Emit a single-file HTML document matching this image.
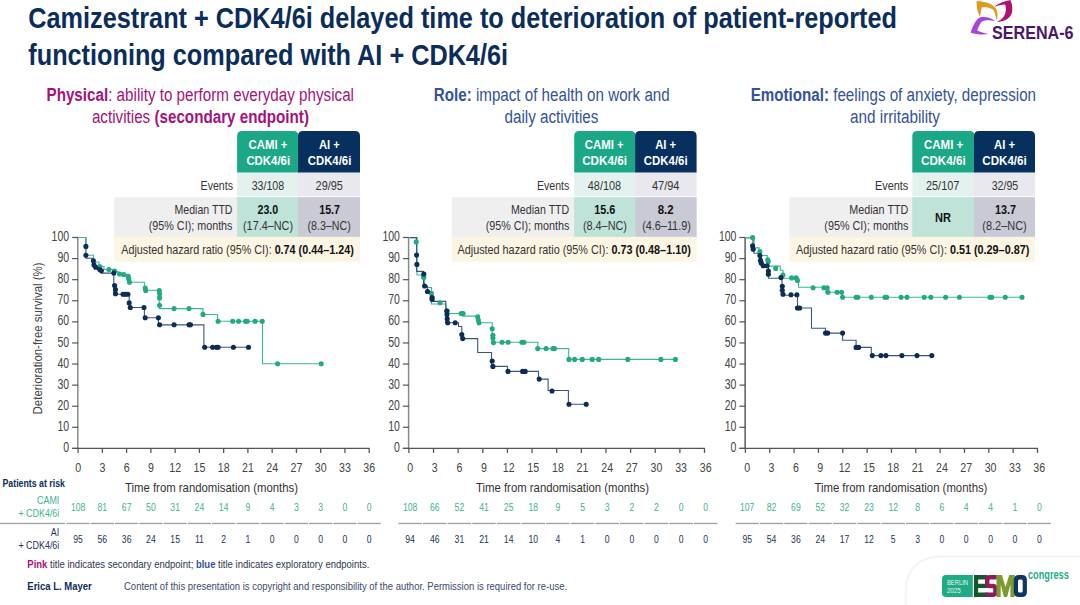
<!DOCTYPE html><html><head><meta charset="utf-8"><style>html,body{margin:0;padding:0;background:#fff;}svg{display:block;}text{font-family:"Liberation Sans", sans-serif;}</style></head><body>
<svg width="1080" height="605" viewBox="0 0 1080 605">
<rect x="0" y="0" width="1080" height="605" fill="#fff"/>
<text x="28.30" y="27.80" font-size="30" fill="#0b2d5b" font-weight="bold" textLength="868.70" lengthAdjust="spacingAndGlyphs" ><tspan>Camizestrant + CDK4/6i delayed time to deterioration of patient-reported</tspan></text>
<text x="28.30" y="65.20" font-size="30" fill="#0b2d5b" font-weight="bold" textLength="479.70" lengthAdjust="spacingAndGlyphs" ><tspan>functioning compared with AI + CDK4/6i</tspan></text>
<path d="M976.6,1 C985,1.5 992,3.5 995.5,8 C998,12 997.8,17 996.8,20.8 C995.5,16 995,12 993,9.5 C990,7.3 985,7 981.9,7.3 C981,10 980.5,13.5 980.2,16.8 C977.5,13 976.5,8 976.6,1 Z" fill="#dd9c1c"/>
<path d="M995.1,6 C999,3 1005,1 1010.3,0 C1012.5,4 1013,10 1011.5,14 C1009,19.5 1003,21.8 997,21.8 C1001,20 1004.5,17 1005.5,12.5 C1006.3,9 1005.8,6 1005,4.6 C1001.5,5 998,5.5 995.1,6.8 Z" fill="#b0126a"/>
<path d="M995.1,21.2 C991,17.5 985,16.3 980,17.5 C976,19 973,26 970.6,32.4 C976,34.5 983,35 989.1,34.1 C985,33 980,32 977.2,30.4 C978.5,27 980,23.5 982,21.5 C986,19.5 991,20 995.1,21.2 Z" fill="#a445dc"/>
<text x="992.00" y="39.00" font-size="18.8" fill="#4b1768" font-weight="bold" textLength="81.60" lengthAdjust="spacingAndGlyphs" ><tspan>SERENA-6</tspan></text>
<text x="46.50" y="101.30" font-size="18" fill="#a5137a" font-weight="normal" textLength="307.50" lengthAdjust="spacingAndGlyphs" ><tspan font-weight="bold">Physical</tspan><tspan>: ability to perform everyday physical</tspan></text>
<text x="91.90" y="122.60" font-size="18" fill="#a5137a" font-weight="normal" textLength="217.10" lengthAdjust="spacingAndGlyphs" ><tspan>activities </tspan><tspan font-weight="bold">(secondary endpoint)</tspan></text>
<text x="433.80" y="101.30" font-size="18" fill="#33529c" font-weight="normal" textLength="235.90" lengthAdjust="spacingAndGlyphs" ><tspan font-weight="bold">Role:</tspan><tspan> impact of health on work and</tspan></text>
<text x="504.50" y="122.60" font-size="18" fill="#33529c" font-weight="normal" textLength="93.90" lengthAdjust="spacingAndGlyphs" ><tspan>daily activities</tspan></text>
<text x="750.70" y="101.30" font-size="18" fill="#33529c" font-weight="normal" textLength="285.30" lengthAdjust="spacingAndGlyphs" ><tspan font-weight="bold">Emotional:</tspan><tspan> feelings of anxiety, depression</tspan></text>
<text x="850.00" y="122.60" font-size="18" fill="#33529c" font-weight="normal" textLength="90.00" lengthAdjust="spacingAndGlyphs" ><tspan>and irritability</tspan></text>
<rect x="114.25" y="197.2" width="245.75" height="39.70000000000002" fill="#efeff0"/>
<rect x="237.1" y="197.2" width="60.900000000000006" height="39.70000000000002" fill="#bfe3d8"/>
<rect x="298" y="197.2" width="62" height="39.70000000000002" fill="#c9cad6"/>
<rect x="114.25" y="236.9" width="245.75" height="24.799999999999983" fill="#fdf5e3"/>
<rect x="237.1" y="172.6" width="60.900000000000006" height="23.599999999999994" fill="#e3f2ee"/>
<rect x="298" y="172.6" width="62" height="23.599999999999994" fill="#e8e8ee"/>
<path d="M237.1,172.6 L237.1,136 Q237.1,131 242.1,131 L293.5,131 Q298.5,131 298.5,136 L298.5,172.6 Z" fill="#1ba886"/>
<path d="M298,172.6 L298,136 Q298,131 303,131 L355,131 Q360,131 360,136 L360,172.6 Z" fill="#07305f"/>
<text x="248.50" y="148.60" font-size="12.5" fill="#fff" font-weight="bold" textLength="38.90" lengthAdjust="spacingAndGlyphs" ><tspan>CAMI +</tspan></text>
<text x="246.40" y="164.90" font-size="12.5" fill="#fff" font-weight="bold" textLength="43.70" lengthAdjust="spacingAndGlyphs" ><tspan>CDK4/6i</tspan></text>
<text x="318.90" y="148.60" font-size="12.5" fill="#fff" font-weight="bold" textLength="20.80" lengthAdjust="spacingAndGlyphs" ><tspan>AI +</tspan></text>
<text x="307.80" y="164.90" font-size="12.5" fill="#fff" font-weight="bold" textLength="43.50" lengthAdjust="spacingAndGlyphs" ><tspan>CDK4/6i</tspan></text>
<text x="200.60" y="189.70" font-size="13" fill="#333333" font-weight="normal" textLength="32.40" lengthAdjust="spacingAndGlyphs" ><tspan>Events</tspan></text>
<text x="251.70" y="189.70" font-size="13" fill="#333333" font-weight="normal" textLength="32.50" lengthAdjust="spacingAndGlyphs" ><tspan>33/108</tspan></text>
<text x="315.60" y="189.70" font-size="13" fill="#333333" font-weight="normal" textLength="27.30" lengthAdjust="spacingAndGlyphs" ><tspan>29/95</tspan></text>
<text x="174.50" y="214.10" font-size="13" fill="#333333" font-weight="normal" textLength="58.00" lengthAdjust="spacingAndGlyphs" ><tspan>Median TTD</tspan></text>
<text x="148.75" y="230.30" font-size="13" fill="#333333" font-weight="normal" textLength="83.75" lengthAdjust="spacingAndGlyphs" ><tspan>(95% CI); months</tspan></text>
<text x="257.50" y="214.10" font-size="13" fill="#111" font-weight="bold" textLength="20.75" lengthAdjust="spacingAndGlyphs" ><tspan>23.0</tspan></text>
<text x="243.00" y="230.30" font-size="13" fill="#333333" font-weight="normal" textLength="50.00" lengthAdjust="spacingAndGlyphs" ><tspan>(17.4–NC)</tspan></text>
<text x="319.25" y="214.10" font-size="13" fill="#111" font-weight="bold" textLength="20.75" lengthAdjust="spacingAndGlyphs" ><tspan>15.7</tspan></text>
<text x="307.50" y="230.30" font-size="13" fill="#333333" font-weight="normal" textLength="43.25" lengthAdjust="spacingAndGlyphs" ><tspan>(8.3–NC)</tspan></text>
<text x="121.25" y="253.80" font-size="13" fill="#333333" font-weight="normal" textLength="232.50" lengthAdjust="spacingAndGlyphs" ><tspan>Adjusted hazard ratio (95% CI): </tspan><tspan font-weight="bold" fill="#111">0.74 (0.44–1.24)</tspan></text>
<rect x="451.7" y="197.2" width="244.90000000000003" height="39.70000000000002" fill="#efeff0"/>
<rect x="574.2" y="197.2" width="60.89999999999998" height="39.70000000000002" fill="#bfe3d8"/>
<rect x="635.1" y="197.2" width="61.5" height="39.70000000000002" fill="#c9cad6"/>
<rect x="451.7" y="236.9" width="244.90000000000003" height="24.799999999999983" fill="#fdf5e3"/>
<rect x="574.2" y="172.6" width="60.89999999999998" height="23.599999999999994" fill="#e3f2ee"/>
<rect x="635.1" y="172.6" width="61.5" height="23.599999999999994" fill="#e8e8ee"/>
<path d="M574.2,172.6 L574.2,136 Q574.2,131 579.2,131 L630.6,131 Q635.6,131 635.6,136 L635.6,172.6 Z" fill="#1ba886"/>
<path d="M635.1,172.6 L635.1,136 Q635.1,131 640.1,131 L691.6,131 Q696.6,131 696.6,136 L696.6,172.6 Z" fill="#07305f"/>
<text x="584.80" y="148.60" font-size="12.5" fill="#fff" font-weight="bold" textLength="38.90" lengthAdjust="spacingAndGlyphs" ><tspan>CAMI +</tspan></text>
<text x="582.20" y="164.90" font-size="12.5" fill="#fff" font-weight="bold" textLength="44.80" lengthAdjust="spacingAndGlyphs" ><tspan>CDK4/6i</tspan></text>
<text x="655.20" y="148.60" font-size="12.5" fill="#fff" font-weight="bold" textLength="21.00" lengthAdjust="spacingAndGlyphs" ><tspan>AI +</tspan></text>
<text x="643.80" y="164.90" font-size="12.5" fill="#fff" font-weight="bold" textLength="43.80" lengthAdjust="spacingAndGlyphs" ><tspan>CDK4/6i</tspan></text>
<text x="536.90" y="189.70" font-size="13" fill="#333333" font-weight="normal" textLength="32.40" lengthAdjust="spacingAndGlyphs" ><tspan>Events</tspan></text>
<text x="587.80" y="189.70" font-size="13" fill="#333333" font-weight="normal" textLength="33.30" lengthAdjust="spacingAndGlyphs" ><tspan>48/108</tspan></text>
<text x="651.90" y="189.70" font-size="13" fill="#333333" font-weight="normal" textLength="27.60" lengthAdjust="spacingAndGlyphs" ><tspan>47/94</tspan></text>
<text x="511.00" y="214.10" font-size="13" fill="#333333" font-weight="normal" textLength="58.30" lengthAdjust="spacingAndGlyphs" ><tspan>Median TTD</tspan></text>
<text x="485.70" y="230.30" font-size="13" fill="#333333" font-weight="normal" textLength="83.60" lengthAdjust="spacingAndGlyphs" ><tspan>(95% CI); months</tspan></text>
<text x="594.20" y="214.10" font-size="13" fill="#111" font-weight="bold" textLength="21.10" lengthAdjust="spacingAndGlyphs" ><tspan>15.6</tspan></text>
<text x="582.90" y="230.30" font-size="13" fill="#333333" font-weight="normal" textLength="44.10" lengthAdjust="spacingAndGlyphs" ><tspan>(8.4–NC)</tspan></text>
<text x="657.70" y="214.10" font-size="13" fill="#111" font-weight="bold" textLength="15.90" lengthAdjust="spacingAndGlyphs" ><tspan>8.2</tspan></text>
<text x="642.20" y="230.30" font-size="13" fill="#333333" font-weight="normal" textLength="48.60" lengthAdjust="spacingAndGlyphs" ><tspan>(4.6–11.9)</tspan></text>
<text x="457.50" y="253.80" font-size="13" fill="#333333" font-weight="normal" textLength="233.30" lengthAdjust="spacingAndGlyphs" ><tspan>Adjusted hazard ratio (95% CI): </tspan><tspan font-weight="bold" fill="#111">0.73 (0.48–1.10)</tspan></text>
<rect x="789.3" y="197.2" width="245.70000000000005" height="39.70000000000002" fill="#efeff0"/>
<rect x="912.3" y="197.2" width="61.700000000000045" height="39.70000000000002" fill="#bfe3d8"/>
<rect x="974" y="197.2" width="61" height="39.70000000000002" fill="#c9cad6"/>
<rect x="789.3" y="236.9" width="245.70000000000005" height="24.799999999999983" fill="#fdf5e3"/>
<rect x="912.3" y="172.6" width="61.700000000000045" height="23.599999999999994" fill="#e3f2ee"/>
<rect x="974" y="172.6" width="61" height="23.599999999999994" fill="#e8e8ee"/>
<path d="M912.3,172.6 L912.3,136 Q912.3,131 917.3,131 L969.5,131 Q974.5,131 974.5,136 L974.5,172.6 Z" fill="#1ba886"/>
<path d="M974,172.6 L974,136 Q974,131 979,131 L1030,131 Q1035,131 1035,136 L1035,172.6 Z" fill="#07305f"/>
<text x="924.00" y="148.60" font-size="12.5" fill="#fff" font-weight="bold" textLength="39.30" lengthAdjust="spacingAndGlyphs" ><tspan>CAMI +</tspan></text>
<text x="921.00" y="164.90" font-size="12.5" fill="#fff" font-weight="bold" textLength="44.70" lengthAdjust="spacingAndGlyphs" ><tspan>CDK4/6i</tspan></text>
<text x="994.00" y="148.60" font-size="12.5" fill="#fff" font-weight="bold" textLength="21.00" lengthAdjust="spacingAndGlyphs" ><tspan>AI +</tspan></text>
<text x="982.30" y="164.90" font-size="12.5" fill="#fff" font-weight="bold" textLength="44.40" lengthAdjust="spacingAndGlyphs" ><tspan>CDK4/6i</tspan></text>
<text x="875.00" y="189.70" font-size="13" fill="#333333" font-weight="normal" textLength="33.30" lengthAdjust="spacingAndGlyphs" ><tspan>Events</tspan></text>
<text x="926.00" y="189.70" font-size="13" fill="#333333" font-weight="normal" textLength="33.30" lengthAdjust="spacingAndGlyphs" ><tspan>25/107</tspan></text>
<text x="991.70" y="189.70" font-size="13" fill="#333333" font-weight="normal" textLength="26.60" lengthAdjust="spacingAndGlyphs" ><tspan>32/95</tspan></text>
<text x="849.30" y="214.10" font-size="13" fill="#333333" font-weight="normal" textLength="59.00" lengthAdjust="spacingAndGlyphs" ><tspan>Median TTD</tspan></text>
<text x="824.30" y="230.30" font-size="13" fill="#333333" font-weight="normal" textLength="84.00" lengthAdjust="spacingAndGlyphs" ><tspan>(95% CI); months</tspan></text>
<text x="935.00" y="221.60" font-size="13" fill="#111" font-weight="bold" textLength="16.00" lengthAdjust="spacingAndGlyphs" ><tspan>NR</tspan></text>
<text x="995.00" y="214.10" font-size="13" fill="#111" font-weight="bold" textLength="21.00" lengthAdjust="spacingAndGlyphs" ><tspan>13.7</tspan></text>
<text x="982.30" y="230.30" font-size="13" fill="#333333" font-weight="normal" textLength="44.40" lengthAdjust="spacingAndGlyphs" ><tspan>(8.2–NC)</tspan></text>
<text x="796.00" y="253.80" font-size="13" fill="#333333" font-weight="normal" textLength="233.30" lengthAdjust="spacingAndGlyphs" ><tspan>Adjusted hazard ratio (95% CI): </tspan><tspan font-weight="bold" fill="#111">0.51 (0.29–0.87)</tspan></text>
<line x1="77.8" y1="237.5" x2="77.8" y2="448.4" stroke="#8a8a8a" stroke-width="1.5"/>
<line x1="72.1" y1="448.40" x2="78.1" y2="448.40" stroke="#555" stroke-width="1.2"/>
<text transform="translate(69.10,452.00) scale(0.76,1)" font-size="13.8" fill="#444" font-weight="normal" text-anchor="end" ><tspan>0</tspan></text>
<line x1="72.1" y1="427.31" x2="78.1" y2="427.31" stroke="#555" stroke-width="1.2"/>
<text transform="translate(69.10,430.91) scale(0.76,1)" font-size="13.8" fill="#444" font-weight="normal" text-anchor="end" ><tspan>10</tspan></text>
<line x1="72.1" y1="406.22" x2="78.1" y2="406.22" stroke="#555" stroke-width="1.2"/>
<text transform="translate(69.10,409.82) scale(0.76,1)" font-size="13.8" fill="#444" font-weight="normal" text-anchor="end" ><tspan>20</tspan></text>
<line x1="72.1" y1="385.13" x2="78.1" y2="385.13" stroke="#555" stroke-width="1.2"/>
<text transform="translate(69.10,388.73) scale(0.76,1)" font-size="13.8" fill="#444" font-weight="normal" text-anchor="end" ><tspan>30</tspan></text>
<line x1="72.1" y1="364.04" x2="78.1" y2="364.04" stroke="#555" stroke-width="1.2"/>
<text transform="translate(69.10,367.64) scale(0.76,1)" font-size="13.8" fill="#444" font-weight="normal" text-anchor="end" ><tspan>40</tspan></text>
<line x1="72.1" y1="342.95" x2="78.1" y2="342.95" stroke="#555" stroke-width="1.2"/>
<text transform="translate(69.10,346.55) scale(0.76,1)" font-size="13.8" fill="#444" font-weight="normal" text-anchor="end" ><tspan>50</tspan></text>
<line x1="72.1" y1="321.86" x2="78.1" y2="321.86" stroke="#555" stroke-width="1.2"/>
<text transform="translate(69.10,325.46) scale(0.76,1)" font-size="13.8" fill="#444" font-weight="normal" text-anchor="end" ><tspan>60</tspan></text>
<line x1="72.1" y1="300.77" x2="78.1" y2="300.77" stroke="#555" stroke-width="1.2"/>
<text transform="translate(69.10,304.37) scale(0.76,1)" font-size="13.8" fill="#444" font-weight="normal" text-anchor="end" ><tspan>70</tspan></text>
<line x1="72.1" y1="279.68" x2="78.1" y2="279.68" stroke="#555" stroke-width="1.2"/>
<text transform="translate(69.10,283.28) scale(0.76,1)" font-size="13.8" fill="#444" font-weight="normal" text-anchor="end" ><tspan>80</tspan></text>
<line x1="72.1" y1="258.59" x2="78.1" y2="258.59" stroke="#555" stroke-width="1.2"/>
<text transform="translate(69.10,262.19) scale(0.76,1)" font-size="13.8" fill="#444" font-weight="normal" text-anchor="end" ><tspan>90</tspan></text>
<line x1="72.1" y1="237.50" x2="78.1" y2="237.50" stroke="#555" stroke-width="1.2"/>
<text transform="translate(69.10,241.10) scale(0.76,1)" font-size="13.8" fill="#444" font-weight="normal" text-anchor="end" ><tspan>100</tspan></text>
<line x1="72.1" y1="448.4" x2="369.7" y2="448.4" stroke="#555" stroke-width="1.3"/>
<line x1="78.10" y1="448.4" x2="78.10" y2="452.9" stroke="#555" stroke-width="1.3"/>
<text transform="translate(78.10,471.50) scale(0.82,1)" font-size="13" fill="#444" font-weight="normal" text-anchor="middle" ><tspan>0</tspan></text>
<line x1="102.36" y1="448.4" x2="102.36" y2="452.9" stroke="#555" stroke-width="1.3"/>
<text transform="translate(102.36,471.50) scale(0.82,1)" font-size="13" fill="#444" font-weight="normal" text-anchor="middle" ><tspan>3</tspan></text>
<line x1="126.62" y1="448.4" x2="126.62" y2="452.9" stroke="#555" stroke-width="1.3"/>
<text transform="translate(126.62,471.50) scale(0.82,1)" font-size="13" fill="#444" font-weight="normal" text-anchor="middle" ><tspan>6</tspan></text>
<line x1="150.88" y1="448.4" x2="150.88" y2="452.9" stroke="#555" stroke-width="1.3"/>
<text transform="translate(150.88,471.50) scale(0.82,1)" font-size="13" fill="#444" font-weight="normal" text-anchor="middle" ><tspan>9</tspan></text>
<line x1="175.13" y1="448.4" x2="175.13" y2="452.9" stroke="#555" stroke-width="1.3"/>
<text transform="translate(175.13,471.50) scale(0.82,1)" font-size="13" fill="#444" font-weight="normal" text-anchor="middle" ><tspan>12</tspan></text>
<line x1="199.39" y1="448.4" x2="199.39" y2="452.9" stroke="#555" stroke-width="1.3"/>
<text transform="translate(199.39,471.50) scale(0.82,1)" font-size="13" fill="#444" font-weight="normal" text-anchor="middle" ><tspan>15</tspan></text>
<line x1="223.65" y1="448.4" x2="223.65" y2="452.9" stroke="#555" stroke-width="1.3"/>
<text transform="translate(223.65,471.50) scale(0.82,1)" font-size="13" fill="#444" font-weight="normal" text-anchor="middle" ><tspan>18</tspan></text>
<line x1="247.91" y1="448.4" x2="247.91" y2="452.9" stroke="#555" stroke-width="1.3"/>
<text transform="translate(247.91,471.50) scale(0.82,1)" font-size="13" fill="#444" font-weight="normal" text-anchor="middle" ><tspan>21</tspan></text>
<line x1="272.17" y1="448.4" x2="272.17" y2="452.9" stroke="#555" stroke-width="1.3"/>
<text transform="translate(272.17,471.50) scale(0.82,1)" font-size="13" fill="#444" font-weight="normal" text-anchor="middle" ><tspan>24</tspan></text>
<line x1="296.43" y1="448.4" x2="296.43" y2="452.9" stroke="#555" stroke-width="1.3"/>
<text transform="translate(296.43,471.50) scale(0.82,1)" font-size="13" fill="#444" font-weight="normal" text-anchor="middle" ><tspan>27</tspan></text>
<line x1="320.68" y1="448.4" x2="320.68" y2="452.9" stroke="#555" stroke-width="1.3"/>
<text transform="translate(320.68,471.50) scale(0.82,1)" font-size="13" fill="#444" font-weight="normal" text-anchor="middle" ><tspan>30</tspan></text>
<line x1="344.94" y1="448.4" x2="344.94" y2="452.9" stroke="#555" stroke-width="1.3"/>
<text transform="translate(344.94,471.50) scale(0.82,1)" font-size="13" fill="#444" font-weight="normal" text-anchor="middle" ><tspan>33</tspan></text>
<line x1="369.20" y1="448.4" x2="369.20" y2="452.9" stroke="#555" stroke-width="1.3"/>
<text transform="translate(369.20,471.50) scale(0.82,1)" font-size="13" fill="#444" font-weight="normal" text-anchor="middle" ><tspan>36</tspan></text>
<line x1="408.59999999999997" y1="237.5" x2="408.59999999999997" y2="448.4" stroke="#8a8a8a" stroke-width="1.5"/>
<line x1="402.9" y1="448.40" x2="408.9" y2="448.40" stroke="#555" stroke-width="1.2"/>
<text transform="translate(399.90,452.00) scale(0.76,1)" font-size="13.8" fill="#444" font-weight="normal" text-anchor="end" ><tspan>0</tspan></text>
<line x1="402.9" y1="427.31" x2="408.9" y2="427.31" stroke="#555" stroke-width="1.2"/>
<text transform="translate(399.90,430.91) scale(0.76,1)" font-size="13.8" fill="#444" font-weight="normal" text-anchor="end" ><tspan>10</tspan></text>
<line x1="402.9" y1="406.22" x2="408.9" y2="406.22" stroke="#555" stroke-width="1.2"/>
<text transform="translate(399.90,409.82) scale(0.76,1)" font-size="13.8" fill="#444" font-weight="normal" text-anchor="end" ><tspan>20</tspan></text>
<line x1="402.9" y1="385.13" x2="408.9" y2="385.13" stroke="#555" stroke-width="1.2"/>
<text transform="translate(399.90,388.73) scale(0.76,1)" font-size="13.8" fill="#444" font-weight="normal" text-anchor="end" ><tspan>30</tspan></text>
<line x1="402.9" y1="364.04" x2="408.9" y2="364.04" stroke="#555" stroke-width="1.2"/>
<text transform="translate(399.90,367.64) scale(0.76,1)" font-size="13.8" fill="#444" font-weight="normal" text-anchor="end" ><tspan>40</tspan></text>
<line x1="402.9" y1="342.95" x2="408.9" y2="342.95" stroke="#555" stroke-width="1.2"/>
<text transform="translate(399.90,346.55) scale(0.76,1)" font-size="13.8" fill="#444" font-weight="normal" text-anchor="end" ><tspan>50</tspan></text>
<line x1="402.9" y1="321.86" x2="408.9" y2="321.86" stroke="#555" stroke-width="1.2"/>
<text transform="translate(399.90,325.46) scale(0.76,1)" font-size="13.8" fill="#444" font-weight="normal" text-anchor="end" ><tspan>60</tspan></text>
<line x1="402.9" y1="300.77" x2="408.9" y2="300.77" stroke="#555" stroke-width="1.2"/>
<text transform="translate(399.90,304.37) scale(0.76,1)" font-size="13.8" fill="#444" font-weight="normal" text-anchor="end" ><tspan>70</tspan></text>
<line x1="402.9" y1="279.68" x2="408.9" y2="279.68" stroke="#555" stroke-width="1.2"/>
<text transform="translate(399.90,283.28) scale(0.76,1)" font-size="13.8" fill="#444" font-weight="normal" text-anchor="end" ><tspan>80</tspan></text>
<line x1="402.9" y1="258.59" x2="408.9" y2="258.59" stroke="#555" stroke-width="1.2"/>
<text transform="translate(399.90,262.19) scale(0.76,1)" font-size="13.8" fill="#444" font-weight="normal" text-anchor="end" ><tspan>90</tspan></text>
<line x1="402.9" y1="237.50" x2="408.9" y2="237.50" stroke="#555" stroke-width="1.2"/>
<text transform="translate(399.90,241.10) scale(0.76,1)" font-size="13.8" fill="#444" font-weight="normal" text-anchor="end" ><tspan>100</tspan></text>
<line x1="402.9" y1="448.4" x2="705.0" y2="448.4" stroke="#555" stroke-width="1.3"/>
<line x1="408.90" y1="448.4" x2="408.90" y2="452.9" stroke="#555" stroke-width="1.3"/>
<text transform="translate(410.10,471.50) scale(0.82,1)" font-size="13" fill="#444" font-weight="normal" text-anchor="middle" ><tspan>0</tspan></text>
<line x1="433.53" y1="448.4" x2="433.53" y2="452.9" stroke="#555" stroke-width="1.3"/>
<text transform="translate(434.73,471.50) scale(0.82,1)" font-size="13" fill="#444" font-weight="normal" text-anchor="middle" ><tspan>3</tspan></text>
<line x1="458.17" y1="448.4" x2="458.17" y2="452.9" stroke="#555" stroke-width="1.3"/>
<text transform="translate(459.37,471.50) scale(0.82,1)" font-size="13" fill="#444" font-weight="normal" text-anchor="middle" ><tspan>6</tspan></text>
<line x1="482.80" y1="448.4" x2="482.80" y2="452.9" stroke="#555" stroke-width="1.3"/>
<text transform="translate(484.00,471.50) scale(0.82,1)" font-size="13" fill="#444" font-weight="normal" text-anchor="middle" ><tspan>9</tspan></text>
<line x1="507.43" y1="448.4" x2="507.43" y2="452.9" stroke="#555" stroke-width="1.3"/>
<text transform="translate(508.63,471.50) scale(0.82,1)" font-size="13" fill="#444" font-weight="normal" text-anchor="middle" ><tspan>12</tspan></text>
<line x1="532.07" y1="448.4" x2="532.07" y2="452.9" stroke="#555" stroke-width="1.3"/>
<text transform="translate(533.27,471.50) scale(0.82,1)" font-size="13" fill="#444" font-weight="normal" text-anchor="middle" ><tspan>15</tspan></text>
<line x1="556.70" y1="448.4" x2="556.70" y2="452.9" stroke="#555" stroke-width="1.3"/>
<text transform="translate(557.90,471.50) scale(0.82,1)" font-size="13" fill="#444" font-weight="normal" text-anchor="middle" ><tspan>18</tspan></text>
<line x1="581.33" y1="448.4" x2="581.33" y2="452.9" stroke="#555" stroke-width="1.3"/>
<text transform="translate(582.53,471.50) scale(0.82,1)" font-size="13" fill="#444" font-weight="normal" text-anchor="middle" ><tspan>21</tspan></text>
<line x1="605.97" y1="448.4" x2="605.97" y2="452.9" stroke="#555" stroke-width="1.3"/>
<text transform="translate(607.17,471.50) scale(0.82,1)" font-size="13" fill="#444" font-weight="normal" text-anchor="middle" ><tspan>24</tspan></text>
<line x1="630.60" y1="448.4" x2="630.60" y2="452.9" stroke="#555" stroke-width="1.3"/>
<text transform="translate(631.80,471.50) scale(0.82,1)" font-size="13" fill="#444" font-weight="normal" text-anchor="middle" ><tspan>27</tspan></text>
<line x1="655.23" y1="448.4" x2="655.23" y2="452.9" stroke="#555" stroke-width="1.3"/>
<text transform="translate(656.43,471.50) scale(0.82,1)" font-size="13" fill="#444" font-weight="normal" text-anchor="middle" ><tspan>30</tspan></text>
<line x1="679.87" y1="448.4" x2="679.87" y2="452.9" stroke="#555" stroke-width="1.3"/>
<text transform="translate(681.07,471.50) scale(0.82,1)" font-size="13" fill="#444" font-weight="normal" text-anchor="middle" ><tspan>33</tspan></text>
<line x1="704.50" y1="448.4" x2="704.50" y2="452.9" stroke="#555" stroke-width="1.3"/>
<text transform="translate(705.70,471.50) scale(0.82,1)" font-size="13" fill="#444" font-weight="normal" text-anchor="middle" ><tspan>36</tspan></text>
<line x1="745.1" y1="237.5" x2="745.1" y2="448.4" stroke="#333" stroke-width="1.2"/>
<line x1="739.4" y1="448.40" x2="745.4" y2="448.40" stroke="#555" stroke-width="1.2"/>
<text transform="translate(736.40,452.00) scale(0.76,1)" font-size="13.8" fill="#444" font-weight="normal" text-anchor="end" ><tspan>0</tspan></text>
<line x1="739.4" y1="427.31" x2="745.4" y2="427.31" stroke="#555" stroke-width="1.2"/>
<text transform="translate(736.40,430.91) scale(0.76,1)" font-size="13.8" fill="#444" font-weight="normal" text-anchor="end" ><tspan>10</tspan></text>
<line x1="739.4" y1="406.22" x2="745.4" y2="406.22" stroke="#555" stroke-width="1.2"/>
<text transform="translate(736.40,409.82) scale(0.76,1)" font-size="13.8" fill="#444" font-weight="normal" text-anchor="end" ><tspan>20</tspan></text>
<line x1="739.4" y1="385.13" x2="745.4" y2="385.13" stroke="#555" stroke-width="1.2"/>
<text transform="translate(736.40,388.73) scale(0.76,1)" font-size="13.8" fill="#444" font-weight="normal" text-anchor="end" ><tspan>30</tspan></text>
<line x1="739.4" y1="364.04" x2="745.4" y2="364.04" stroke="#555" stroke-width="1.2"/>
<text transform="translate(736.40,367.64) scale(0.76,1)" font-size="13.8" fill="#444" font-weight="normal" text-anchor="end" ><tspan>40</tspan></text>
<line x1="739.4" y1="342.95" x2="745.4" y2="342.95" stroke="#555" stroke-width="1.2"/>
<text transform="translate(736.40,346.55) scale(0.76,1)" font-size="13.8" fill="#444" font-weight="normal" text-anchor="end" ><tspan>50</tspan></text>
<line x1="739.4" y1="321.86" x2="745.4" y2="321.86" stroke="#555" stroke-width="1.2"/>
<text transform="translate(736.40,325.46) scale(0.76,1)" font-size="13.8" fill="#444" font-weight="normal" text-anchor="end" ><tspan>60</tspan></text>
<line x1="739.4" y1="300.77" x2="745.4" y2="300.77" stroke="#555" stroke-width="1.2"/>
<text transform="translate(736.40,304.37) scale(0.76,1)" font-size="13.8" fill="#444" font-weight="normal" text-anchor="end" ><tspan>70</tspan></text>
<line x1="739.4" y1="279.68" x2="745.4" y2="279.68" stroke="#555" stroke-width="1.2"/>
<text transform="translate(736.40,283.28) scale(0.76,1)" font-size="13.8" fill="#444" font-weight="normal" text-anchor="end" ><tspan>80</tspan></text>
<line x1="739.4" y1="258.59" x2="745.4" y2="258.59" stroke="#555" stroke-width="1.2"/>
<text transform="translate(736.40,262.19) scale(0.76,1)" font-size="13.8" fill="#444" font-weight="normal" text-anchor="end" ><tspan>90</tspan></text>
<line x1="739.4" y1="237.50" x2="745.4" y2="237.50" stroke="#555" stroke-width="1.2"/>
<text transform="translate(736.40,241.10) scale(0.76,1)" font-size="13.8" fill="#444" font-weight="normal" text-anchor="end" ><tspan>100</tspan></text>
<line x1="739.4" y1="448.4" x2="1038.0" y2="448.4" stroke="#555" stroke-width="1.3"/>
<line x1="745.40" y1="448.4" x2="745.40" y2="452.9" stroke="#555" stroke-width="1.3"/>
<text transform="translate(747.20,471.50) scale(0.82,1)" font-size="13" fill="#444" font-weight="normal" text-anchor="middle" ><tspan>0</tspan></text>
<line x1="769.74" y1="448.4" x2="769.74" y2="452.9" stroke="#555" stroke-width="1.3"/>
<text transform="translate(771.54,471.50) scale(0.82,1)" font-size="13" fill="#444" font-weight="normal" text-anchor="middle" ><tspan>3</tspan></text>
<line x1="794.08" y1="448.4" x2="794.08" y2="452.9" stroke="#555" stroke-width="1.3"/>
<text transform="translate(795.88,471.50) scale(0.82,1)" font-size="13" fill="#444" font-weight="normal" text-anchor="middle" ><tspan>6</tspan></text>
<line x1="818.42" y1="448.4" x2="818.42" y2="452.9" stroke="#555" stroke-width="1.3"/>
<text transform="translate(820.22,471.50) scale(0.82,1)" font-size="13" fill="#444" font-weight="normal" text-anchor="middle" ><tspan>9</tspan></text>
<line x1="842.77" y1="448.4" x2="842.77" y2="452.9" stroke="#555" stroke-width="1.3"/>
<text transform="translate(844.57,471.50) scale(0.82,1)" font-size="13" fill="#444" font-weight="normal" text-anchor="middle" ><tspan>12</tspan></text>
<line x1="867.11" y1="448.4" x2="867.11" y2="452.9" stroke="#555" stroke-width="1.3"/>
<text transform="translate(868.91,471.50) scale(0.82,1)" font-size="13" fill="#444" font-weight="normal" text-anchor="middle" ><tspan>15</tspan></text>
<line x1="891.45" y1="448.4" x2="891.45" y2="452.9" stroke="#555" stroke-width="1.3"/>
<text transform="translate(893.25,471.50) scale(0.82,1)" font-size="13" fill="#444" font-weight="normal" text-anchor="middle" ><tspan>18</tspan></text>
<line x1="915.79" y1="448.4" x2="915.79" y2="452.9" stroke="#555" stroke-width="1.3"/>
<text transform="translate(917.59,471.50) scale(0.82,1)" font-size="13" fill="#444" font-weight="normal" text-anchor="middle" ><tspan>21</tspan></text>
<line x1="940.13" y1="448.4" x2="940.13" y2="452.9" stroke="#555" stroke-width="1.3"/>
<text transform="translate(941.93,471.50) scale(0.82,1)" font-size="13" fill="#444" font-weight="normal" text-anchor="middle" ><tspan>24</tspan></text>
<line x1="964.48" y1="448.4" x2="964.48" y2="452.9" stroke="#555" stroke-width="1.3"/>
<text transform="translate(966.27,471.50) scale(0.82,1)" font-size="13" fill="#444" font-weight="normal" text-anchor="middle" ><tspan>27</tspan></text>
<line x1="988.82" y1="448.4" x2="988.82" y2="452.9" stroke="#555" stroke-width="1.3"/>
<text transform="translate(990.62,471.50) scale(0.82,1)" font-size="13" fill="#444" font-weight="normal" text-anchor="middle" ><tspan>30</tspan></text>
<line x1="1013.16" y1="448.4" x2="1013.16" y2="452.9" stroke="#555" stroke-width="1.3"/>
<text transform="translate(1014.96,471.50) scale(0.82,1)" font-size="13" fill="#444" font-weight="normal" text-anchor="middle" ><tspan>33</tspan></text>
<line x1="1037.50" y1="448.4" x2="1037.50" y2="452.9" stroke="#555" stroke-width="1.3"/>
<text transform="translate(1039.30,471.50) scale(0.82,1)" font-size="13" fill="#444" font-weight="normal" text-anchor="middle" ><tspan>36</tspan></text>
<text transform="translate(42.4,414.4) rotate(-90)" font-size="13" fill="#444" textLength="152" lengthAdjust="spacingAndGlyphs">Deterioration-free survival (%)</text>
<path d="M78.0,237.5 L85.9,237.5 L85.9,258.3 L93.4,258.3 L93.4,264.0 L95.0,264.0 L95.0,267.0 L98.0,267.0 L98.0,270.0 L101.4,270.0 L101.4,273.1 L113.8,273.1 L113.8,294.3 L129.2,294.3 L129.2,307.5 L144.4,307.5 L144.4,317.7 L158.4,317.7 L158.4,324.9 L203.9,324.9 L203.9,347.2 L248.5,347.2 L248.5,347.2" fill="none" stroke="#3b5580" stroke-width="1.1" stroke-linejoin="miter"/>
<path d="M78.0,237.5 L85.9,237.5 L85.9,255.3 L93.6,255.3 L93.6,262.0 L99.0,262.0 L99.0,266.5 L104.0,266.5 L104.0,269.5 L113.0,269.5 L113.0,271.5 L118.0,271.5 L118.0,274.5 L128.2,274.5 L128.2,282.2 L144.4,282.2 L144.4,290.3 L159.3,290.3 L159.3,308.6 L203.0,308.6 L203.0,314.5 L217.6,314.5 L217.6,321.2 L262.5,321.2 L262.5,363.7 L321.2,363.7 L321.2,363.7" fill="none" stroke="#3db692" stroke-width="1.1" stroke-linejoin="miter"/>
<circle cx="99.8" cy="266.5" r="2.55" fill="#1faa84"/>
<circle cx="108.9" cy="269.5" r="2.55" fill="#1faa84"/>
<circle cx="114.6" cy="271.1" r="2.55" fill="#1faa84"/>
<circle cx="119.6" cy="274.0" r="2.55" fill="#1faa84"/>
<circle cx="123.7" cy="274.5" r="2.55" fill="#1faa84"/>
<circle cx="128.2" cy="276.4" r="2.55" fill="#1faa84"/>
<circle cx="128.7" cy="278.9" r="2.55" fill="#1faa84"/>
<circle cx="129.5" cy="282.2" r="2.55" fill="#1faa84"/>
<circle cx="145.2" cy="288.0" r="2.55" fill="#1faa84"/>
<circle cx="145.7" cy="290.5" r="2.55" fill="#1faa84"/>
<circle cx="159.3" cy="290.5" r="2.55" fill="#1faa84"/>
<circle cx="159.6" cy="293.8" r="2.55" fill="#1faa84"/>
<circle cx="159.6" cy="297.9" r="2.55" fill="#1faa84"/>
<circle cx="159.6" cy="305.3" r="2.55" fill="#1faa84"/>
<circle cx="174.1" cy="308.6" r="2.55" fill="#1faa84"/>
<circle cx="189.0" cy="308.6" r="2.55" fill="#1faa84"/>
<circle cx="203.0" cy="314.4" r="2.55" fill="#1faa84"/>
<circle cx="218.1" cy="321.2" r="2.55" fill="#1faa84"/>
<circle cx="232.7" cy="321.2" r="2.55" fill="#1faa84"/>
<circle cx="238.6" cy="321.2" r="2.55" fill="#1faa84"/>
<circle cx="245.6" cy="321.2" r="2.55" fill="#1faa84"/>
<circle cx="247.2" cy="321.2" r="2.55" fill="#1faa84"/>
<circle cx="255.1" cy="321.2" r="2.55" fill="#1faa84"/>
<circle cx="262.2" cy="321.2" r="2.55" fill="#1faa84"/>
<circle cx="277.6" cy="363.7" r="2.55" fill="#1faa84"/>
<circle cx="321.2" cy="363.7" r="2.55" fill="#1faa84"/>
<circle cx="85.9" cy="246.4" r="2.55" fill="#0b2b58"/>
<circle cx="85.9" cy="255.3" r="2.55" fill="#0b2b58"/>
<circle cx="93.4" cy="260.8" r="2.55" fill="#0b2b58"/>
<circle cx="94.0" cy="264.9" r="2.55" fill="#0b2b58"/>
<circle cx="95.7" cy="267.3" r="2.55" fill="#0b2b58"/>
<circle cx="99.8" cy="269.5" r="2.55" fill="#0b2b58"/>
<circle cx="101.4" cy="270.7" r="2.55" fill="#0b2b58"/>
<circle cx="113.8" cy="273.1" r="2.55" fill="#0b2b58"/>
<circle cx="114.6" cy="285.5" r="2.55" fill="#0b2b58"/>
<circle cx="115.5" cy="289.5" r="2.55" fill="#0b2b58"/>
<circle cx="115.5" cy="293.8" r="2.55" fill="#0b2b58"/>
<circle cx="123.0" cy="294.3" r="2.55" fill="#0b2b58"/>
<circle cx="125.4" cy="294.3" r="2.55" fill="#0b2b58"/>
<circle cx="127.9" cy="294.3" r="2.55" fill="#0b2b58"/>
<circle cx="129.2" cy="302.9" r="2.55" fill="#0b2b58"/>
<circle cx="130.3" cy="307.5" r="2.55" fill="#0b2b58"/>
<circle cx="144.0" cy="307.5" r="2.55" fill="#0b2b58"/>
<circle cx="145.2" cy="317.7" r="2.55" fill="#0b2b58"/>
<circle cx="158.4" cy="317.7" r="2.55" fill="#0b2b58"/>
<circle cx="159.6" cy="324.7" r="2.55" fill="#0b2b58"/>
<circle cx="174.1" cy="324.7" r="2.55" fill="#0b2b58"/>
<circle cx="189.0" cy="324.7" r="2.55" fill="#0b2b58"/>
<circle cx="190.5" cy="324.7" r="2.55" fill="#0b2b58"/>
<circle cx="204.7" cy="347.2" r="2.55" fill="#0b2b58"/>
<circle cx="212.6" cy="347.2" r="2.55" fill="#0b2b58"/>
<circle cx="216.5" cy="347.2" r="2.55" fill="#0b2b58"/>
<circle cx="218.1" cy="347.2" r="2.55" fill="#0b2b58"/>
<circle cx="233.4" cy="347.2" r="2.55" fill="#0b2b58"/>
<circle cx="248.5" cy="347.2" r="2.55" fill="#0b2b58"/>
<path d="M409.6,237.6 L417.0,237.6 L417.0,275.0 L421.5,275.0 L421.5,278.0 L424.6,278.0 L424.6,287.5 L431.4,287.5 L431.4,304.0 L446.0,304.0 L446.0,313.5 L462.5,313.5 L462.5,316.1 L477.7,316.1 L477.7,322.8 L492.2,322.8 L492.2,342.3 L537.8,342.3 L537.8,348.6 L568.7,348.6 L568.7,359.4 L675.4,359.4 L675.4,359.4" fill="none" stroke="#3db692" stroke-width="1.1" stroke-linejoin="miter"/>
<path d="M409.6,237.6 L416.6,237.6 L416.6,271.4 L423.5,271.4 L423.5,286.0 L427.5,286.0 L427.5,291.5 L432.1,291.5 L432.1,301.4 L445.8,301.4 L445.8,322.8 L458.5,322.8 L458.5,326.5 L461.8,326.5 L461.8,338.6 L477.7,338.6 L477.7,352.5 L491.5,352.5 L491.5,366.4 L507.4,366.4 L507.4,371.4 L538.5,371.4 L538.5,379.1 L548.1,379.1 L548.1,390.5 L568.4,390.5 L568.4,404.3 L586.2,404.3 L586.2,404.3" fill="none" stroke="#3b5580" stroke-width="1.1" stroke-linejoin="miter"/>
<circle cx="416.2" cy="241.9" r="2.55" fill="#1faa84"/>
<circle cx="423.8" cy="277.6" r="2.55" fill="#1faa84"/>
<circle cx="431.4" cy="293.5" r="2.55" fill="#1faa84"/>
<circle cx="440.0" cy="302.7" r="2.55" fill="#1faa84"/>
<circle cx="447.3" cy="311.0" r="2.55" fill="#1faa84"/>
<circle cx="461.1" cy="313.5" r="2.55" fill="#1faa84"/>
<circle cx="463.1" cy="313.5" r="2.55" fill="#1faa84"/>
<circle cx="477.7" cy="316.8" r="2.55" fill="#1faa84"/>
<circle cx="478.3" cy="320.0" r="2.55" fill="#1faa84"/>
<circle cx="479.0" cy="322.8" r="2.55" fill="#1faa84"/>
<circle cx="492.2" cy="328.7" r="2.55" fill="#1faa84"/>
<circle cx="492.9" cy="335.3" r="2.55" fill="#1faa84"/>
<circle cx="492.9" cy="338.0" r="2.55" fill="#1faa84"/>
<circle cx="493.5" cy="342.6" r="2.55" fill="#1faa84"/>
<circle cx="502.1" cy="342.3" r="2.55" fill="#1faa84"/>
<circle cx="508.1" cy="342.3" r="2.55" fill="#1faa84"/>
<circle cx="521.9" cy="342.3" r="2.55" fill="#1faa84"/>
<circle cx="523.9" cy="342.3" r="2.55" fill="#1faa84"/>
<circle cx="537.7" cy="348.6" r="2.55" fill="#1faa84"/>
<circle cx="546.1" cy="348.6" r="2.55" fill="#1faa84"/>
<circle cx="553.0" cy="348.6" r="2.55" fill="#1faa84"/>
<circle cx="554.5" cy="348.6" r="2.55" fill="#1faa84"/>
<circle cx="569.0" cy="359.4" r="2.55" fill="#1faa84"/>
<circle cx="574.6" cy="359.4" r="2.55" fill="#1faa84"/>
<circle cx="582.3" cy="359.4" r="2.55" fill="#1faa84"/>
<circle cx="592.2" cy="359.4" r="2.55" fill="#1faa84"/>
<circle cx="598.7" cy="359.4" r="2.55" fill="#1faa84"/>
<circle cx="627.8" cy="359.4" r="2.55" fill="#1faa84"/>
<circle cx="660.9" cy="359.4" r="2.55" fill="#1faa84"/>
<circle cx="675.4" cy="359.4" r="2.55" fill="#1faa84"/>
<circle cx="416.6" cy="255.1" r="2.55" fill="#0b2b58"/>
<circle cx="416.9" cy="264.4" r="2.55" fill="#0b2b58"/>
<circle cx="423.8" cy="274.0" r="2.55" fill="#0b2b58"/>
<circle cx="424.6" cy="286.0" r="2.55" fill="#0b2b58"/>
<circle cx="427.5" cy="291.5" r="2.55" fill="#0b2b58"/>
<circle cx="432.1" cy="297.5" r="2.55" fill="#0b2b58"/>
<circle cx="432.1" cy="299.4" r="2.55" fill="#0b2b58"/>
<circle cx="446.7" cy="311.0" r="2.55" fill="#0b2b58"/>
<circle cx="447.0" cy="314.5" r="2.55" fill="#0b2b58"/>
<circle cx="447.2" cy="318.8" r="2.55" fill="#0b2b58"/>
<circle cx="447.7" cy="322.8" r="2.55" fill="#0b2b58"/>
<circle cx="455.2" cy="322.8" r="2.55" fill="#0b2b58"/>
<circle cx="461.8" cy="334.6" r="2.55" fill="#0b2b58"/>
<circle cx="462.7" cy="338.6" r="2.55" fill="#0b2b58"/>
<circle cx="492.2" cy="361.0" r="2.55" fill="#0b2b58"/>
<circle cx="492.9" cy="366.4" r="2.55" fill="#0b2b58"/>
<circle cx="508.0" cy="371.4" r="2.55" fill="#0b2b58"/>
<circle cx="522.6" cy="371.4" r="2.55" fill="#0b2b58"/>
<circle cx="525.2" cy="371.4" r="2.55" fill="#0b2b58"/>
<circle cx="539.2" cy="379.1" r="2.55" fill="#0b2b58"/>
<circle cx="552.0" cy="391.0" r="2.55" fill="#0b2b58"/>
<circle cx="569.0" cy="404.3" r="2.55" fill="#0b2b58"/>
<circle cx="586.2" cy="404.3" r="2.55" fill="#0b2b58"/>
<path d="M746.0,237.6 L753.9,237.6 L753.9,253.2 L759.2,253.2 L759.2,257.5 L761.0,257.5 L761.0,262.0 L763.0,262.0 L763.0,265.7 L768.4,265.7 L768.4,278.3 L782.0,278.3 L782.0,295.2 L797.5,295.2 L797.5,308.0 L811.5,308.0 L811.5,328.2 L825.5,328.2 L825.5,333.1 L842.6,333.1 L842.6,340.2 L856.1,340.2 L856.1,347.4 L871.3,347.4 L871.3,355.6 L931.8,355.6 L931.8,355.6" fill="none" stroke="#3b5580" stroke-width="1.1" stroke-linejoin="miter"/>
<path d="M746.0,237.6 L752.6,237.6 L752.6,247.9 L759.2,247.9 L759.2,255.5 L767.3,255.5 L767.3,266.1 L780.3,266.1 L780.3,270.3 L783.0,270.3 L783.0,278.3 L798.5,278.3 L798.5,287.3 L826.0,287.3 L826.0,292.3 L842.0,292.3 L842.0,297.3 L1022.0,297.3 L1022.0,297.3" fill="none" stroke="#3db692" stroke-width="1.1" stroke-linejoin="miter"/>
<circle cx="752.6" cy="237.6" r="2.55" fill="#1faa84"/>
<circle cx="759.9" cy="251.6" r="2.55" fill="#1faa84"/>
<circle cx="767.8" cy="259.8" r="2.55" fill="#1faa84"/>
<circle cx="768.2" cy="261.8" r="2.55" fill="#1faa84"/>
<circle cx="775.7" cy="268.4" r="2.55" fill="#1faa84"/>
<circle cx="783.0" cy="275.0" r="2.55" fill="#1faa84"/>
<circle cx="791.6" cy="277.9" r="2.55" fill="#1faa84"/>
<circle cx="796.2" cy="277.9" r="2.55" fill="#1faa84"/>
<circle cx="797.5" cy="280.5" r="2.55" fill="#1faa84"/>
<circle cx="813.1" cy="287.8" r="2.55" fill="#1faa84"/>
<circle cx="823.9" cy="287.8" r="2.55" fill="#1faa84"/>
<circle cx="827.2" cy="287.8" r="2.55" fill="#1faa84"/>
<circle cx="828.0" cy="292.3" r="2.55" fill="#1faa84"/>
<circle cx="837.1" cy="292.3" r="2.55" fill="#1faa84"/>
<circle cx="841.6" cy="292.3" r="2.55" fill="#1faa84"/>
<circle cx="842.6" cy="297.3" r="2.55" fill="#1faa84"/>
<circle cx="856.1" cy="297.3" r="2.55" fill="#1faa84"/>
<circle cx="857.8" cy="297.3" r="2.55" fill="#1faa84"/>
<circle cx="871.3" cy="297.3" r="2.55" fill="#1faa84"/>
<circle cx="885.0" cy="297.3" r="2.55" fill="#1faa84"/>
<circle cx="886.7" cy="297.3" r="2.55" fill="#1faa84"/>
<circle cx="901.1" cy="297.3" r="2.55" fill="#1faa84"/>
<circle cx="907.0" cy="297.3" r="2.55" fill="#1faa84"/>
<circle cx="924.2" cy="297.3" r="2.55" fill="#1faa84"/>
<circle cx="930.8" cy="297.3" r="2.55" fill="#1faa84"/>
<circle cx="945.6" cy="297.3" r="2.55" fill="#1faa84"/>
<circle cx="959.4" cy="297.3" r="2.55" fill="#1faa84"/>
<circle cx="990.0" cy="297.3" r="2.55" fill="#1faa84"/>
<circle cx="991.7" cy="297.3" r="2.55" fill="#1faa84"/>
<circle cx="1005.3" cy="297.3" r="2.55" fill="#1faa84"/>
<circle cx="1022.0" cy="297.3" r="2.55" fill="#1faa84"/>
<circle cx="752.6" cy="245.9" r="2.55" fill="#0b2b58"/>
<circle cx="753.2" cy="249.2" r="2.55" fill="#0b2b58"/>
<circle cx="759.9" cy="255.5" r="2.55" fill="#0b2b58"/>
<circle cx="760.5" cy="260.4" r="2.55" fill="#0b2b58"/>
<circle cx="761.2" cy="263.1" r="2.55" fill="#0b2b58"/>
<circle cx="763.2" cy="265.7" r="2.55" fill="#0b2b58"/>
<circle cx="767.1" cy="265.7" r="2.55" fill="#0b2b58"/>
<circle cx="768.4" cy="271.0" r="2.55" fill="#0b2b58"/>
<circle cx="768.4" cy="274.3" r="2.55" fill="#0b2b58"/>
<circle cx="781.0" cy="277.6" r="2.55" fill="#0b2b58"/>
<circle cx="782.3" cy="286.2" r="2.55" fill="#0b2b58"/>
<circle cx="782.3" cy="290.2" r="2.55" fill="#0b2b58"/>
<circle cx="783.0" cy="294.2" r="2.55" fill="#0b2b58"/>
<circle cx="791.0" cy="294.8" r="2.55" fill="#0b2b58"/>
<circle cx="796.9" cy="294.8" r="2.55" fill="#0b2b58"/>
<circle cx="797.4" cy="308.0" r="2.55" fill="#0b2b58"/>
<circle cx="799.6" cy="308.0" r="2.55" fill="#0b2b58"/>
<circle cx="825.5" cy="333.1" r="2.55" fill="#0b2b58"/>
<circle cx="827.7" cy="333.1" r="2.55" fill="#0b2b58"/>
<circle cx="842.6" cy="333.1" r="2.55" fill="#0b2b58"/>
<circle cx="856.1" cy="347.4" r="2.55" fill="#0b2b58"/>
<circle cx="858.6" cy="347.4" r="2.55" fill="#0b2b58"/>
<circle cx="872.3" cy="355.6" r="2.55" fill="#0b2b58"/>
<circle cx="880.9" cy="355.6" r="2.55" fill="#0b2b58"/>
<circle cx="885.9" cy="355.6" r="2.55" fill="#0b2b58"/>
<circle cx="901.9" cy="355.6" r="2.55" fill="#0b2b58"/>
<circle cx="917.0" cy="355.6" r="2.55" fill="#0b2b58"/>
<circle cx="931.8" cy="355.6" r="2.55" fill="#0b2b58"/>
<text x="2.50" y="487.00" font-size="10.5" fill="#0b2d5b" font-weight="bold" textLength="62.50" lengthAdjust="spacingAndGlyphs" ><tspan>Patients at risk</tspan></text>
<text transform="translate(59.30,504.30) scale(0.85,1)" font-size="10.5" fill="#3cb492" font-weight="normal" text-anchor="end" ><tspan>CAMI</tspan></text>
<text transform="translate(59.30,516.80) scale(0.85,1)" font-size="10.5" fill="#3cb492" font-weight="normal" text-anchor="end" ><tspan>+ CDK4/6i</tspan></text>
<text transform="translate(59.30,535.50) scale(0.85,1)" font-size="10.5" fill="#24345a" font-weight="normal" text-anchor="end" ><tspan>AI</tspan></text>
<text transform="translate(59.30,548.80) scale(0.85,1)" font-size="10.5" fill="#24345a" font-weight="normal" text-anchor="end" ><tspan>+ CDK4/6i</tspan></text>
<rect x="0" y="522.8" width="64.8" height="1.3" fill="#a0a0a0"/>
<text transform="translate(78.10,511.30) scale(0.82,1)" font-size="10.5" fill="#3cb492" font-weight="normal" text-anchor="middle" ><tspan>108</tspan></text>
<text transform="translate(78.10,542.50) scale(0.82,1)" font-size="10.5" fill="#24345a" font-weight="normal" text-anchor="middle" ><tspan>95</tspan></text>
<rect x="66.57" y="522.8" width="23.06" height="1.3" fill="#a0a0a0"/>
<text transform="translate(102.36,511.30) scale(0.82,1)" font-size="10.5" fill="#3cb492" font-weight="normal" text-anchor="middle" ><tspan>81</tspan></text>
<text transform="translate(102.36,542.50) scale(0.82,1)" font-size="10.5" fill="#24345a" font-weight="normal" text-anchor="middle" ><tspan>56</tspan></text>
<rect x="90.83" y="522.8" width="23.06" height="1.3" fill="#a0a0a0"/>
<text transform="translate(126.62,511.30) scale(0.82,1)" font-size="10.5" fill="#3cb492" font-weight="normal" text-anchor="middle" ><tspan>67</tspan></text>
<text transform="translate(126.62,542.50) scale(0.82,1)" font-size="10.5" fill="#24345a" font-weight="normal" text-anchor="middle" ><tspan>36</tspan></text>
<rect x="115.09" y="522.8" width="23.06" height="1.3" fill="#a0a0a0"/>
<text transform="translate(150.88,511.30) scale(0.82,1)" font-size="10.5" fill="#3cb492" font-weight="normal" text-anchor="middle" ><tspan>50</tspan></text>
<text transform="translate(150.88,542.50) scale(0.82,1)" font-size="10.5" fill="#24345a" font-weight="normal" text-anchor="middle" ><tspan>24</tspan></text>
<rect x="139.35" y="522.8" width="23.06" height="1.3" fill="#a0a0a0"/>
<text transform="translate(175.13,511.30) scale(0.82,1)" font-size="10.5" fill="#3cb492" font-weight="normal" text-anchor="middle" ><tspan>31</tspan></text>
<text transform="translate(175.13,542.50) scale(0.82,1)" font-size="10.5" fill="#24345a" font-weight="normal" text-anchor="middle" ><tspan>15</tspan></text>
<rect x="163.60" y="522.8" width="23.06" height="1.3" fill="#a0a0a0"/>
<text transform="translate(199.39,511.30) scale(0.82,1)" font-size="10.5" fill="#3cb492" font-weight="normal" text-anchor="middle" ><tspan>24</tspan></text>
<text transform="translate(199.39,542.50) scale(0.82,1)" font-size="10.5" fill="#24345a" font-weight="normal" text-anchor="middle" ><tspan>11</tspan></text>
<rect x="187.86" y="522.8" width="23.06" height="1.3" fill="#a0a0a0"/>
<text transform="translate(223.65,511.30) scale(0.82,1)" font-size="10.5" fill="#3cb492" font-weight="normal" text-anchor="middle" ><tspan>14</tspan></text>
<text transform="translate(223.65,542.50) scale(0.82,1)" font-size="10.5" fill="#24345a" font-weight="normal" text-anchor="middle" ><tspan>2</tspan></text>
<rect x="212.12" y="522.8" width="23.06" height="1.3" fill="#a0a0a0"/>
<text transform="translate(247.91,511.30) scale(0.82,1)" font-size="10.5" fill="#3cb492" font-weight="normal" text-anchor="middle" ><tspan>9</tspan></text>
<text transform="translate(247.91,542.50) scale(0.82,1)" font-size="10.5" fill="#24345a" font-weight="normal" text-anchor="middle" ><tspan>1</tspan></text>
<rect x="236.38" y="522.8" width="23.06" height="1.3" fill="#a0a0a0"/>
<text transform="translate(272.17,511.30) scale(0.82,1)" font-size="10.5" fill="#3cb492" font-weight="normal" text-anchor="middle" ><tspan>4</tspan></text>
<text transform="translate(272.17,542.50) scale(0.82,1)" font-size="10.5" fill="#24345a" font-weight="normal" text-anchor="middle" ><tspan>0</tspan></text>
<rect x="260.64" y="522.8" width="23.06" height="1.3" fill="#a0a0a0"/>
<text transform="translate(296.43,511.30) scale(0.82,1)" font-size="10.5" fill="#3cb492" font-weight="normal" text-anchor="middle" ><tspan>3</tspan></text>
<text transform="translate(296.43,542.50) scale(0.82,1)" font-size="10.5" fill="#24345a" font-weight="normal" text-anchor="middle" ><tspan>0</tspan></text>
<rect x="284.90" y="522.8" width="23.06" height="1.3" fill="#a0a0a0"/>
<text transform="translate(320.68,511.30) scale(0.82,1)" font-size="10.5" fill="#3cb492" font-weight="normal" text-anchor="middle" ><tspan>3</tspan></text>
<text transform="translate(320.68,542.50) scale(0.82,1)" font-size="10.5" fill="#24345a" font-weight="normal" text-anchor="middle" ><tspan>0</tspan></text>
<rect x="309.15" y="522.8" width="23.06" height="1.3" fill="#a0a0a0"/>
<text transform="translate(344.94,511.30) scale(0.82,1)" font-size="10.5" fill="#3cb492" font-weight="normal" text-anchor="middle" ><tspan>0</tspan></text>
<text transform="translate(344.94,542.50) scale(0.82,1)" font-size="10.5" fill="#24345a" font-weight="normal" text-anchor="middle" ><tspan>0</tspan></text>
<rect x="333.41" y="522.8" width="23.06" height="1.3" fill="#a0a0a0"/>
<text transform="translate(369.20,511.30) scale(0.82,1)" font-size="10.5" fill="#3cb492" font-weight="normal" text-anchor="middle" ><tspan>0</tspan></text>
<text transform="translate(369.20,542.50) scale(0.82,1)" font-size="10.5" fill="#24345a" font-weight="normal" text-anchor="middle" ><tspan>0</tspan></text>
<rect x="357.67" y="522.8" width="23.06" height="1.3" fill="#a0a0a0"/>
<text transform="translate(410.10,511.30) scale(0.82,1)" font-size="10.5" fill="#3cb492" font-weight="normal" text-anchor="middle" ><tspan>108</tspan></text>
<text transform="translate(410.10,542.50) scale(0.82,1)" font-size="10.5" fill="#24345a" font-weight="normal" text-anchor="middle" ><tspan>94</tspan></text>
<rect x="398.38" y="522.8" width="23.43" height="1.3" fill="#a0a0a0"/>
<text transform="translate(434.73,511.30) scale(0.82,1)" font-size="10.5" fill="#3cb492" font-weight="normal" text-anchor="middle" ><tspan>66</tspan></text>
<text transform="translate(434.73,542.50) scale(0.82,1)" font-size="10.5" fill="#24345a" font-weight="normal" text-anchor="middle" ><tspan>46</tspan></text>
<rect x="423.02" y="522.8" width="23.43" height="1.3" fill="#a0a0a0"/>
<text transform="translate(459.37,511.30) scale(0.82,1)" font-size="10.5" fill="#3cb492" font-weight="normal" text-anchor="middle" ><tspan>52</tspan></text>
<text transform="translate(459.37,542.50) scale(0.82,1)" font-size="10.5" fill="#24345a" font-weight="normal" text-anchor="middle" ><tspan>31</tspan></text>
<rect x="447.65" y="522.8" width="23.43" height="1.3" fill="#a0a0a0"/>
<text transform="translate(484.00,511.30) scale(0.82,1)" font-size="10.5" fill="#3cb492" font-weight="normal" text-anchor="middle" ><tspan>41</tspan></text>
<text transform="translate(484.00,542.50) scale(0.82,1)" font-size="10.5" fill="#24345a" font-weight="normal" text-anchor="middle" ><tspan>21</tspan></text>
<rect x="472.28" y="522.8" width="23.43" height="1.3" fill="#a0a0a0"/>
<text transform="translate(508.63,511.30) scale(0.82,1)" font-size="10.5" fill="#3cb492" font-weight="normal" text-anchor="middle" ><tspan>25</tspan></text>
<text transform="translate(508.63,542.50) scale(0.82,1)" font-size="10.5" fill="#24345a" font-weight="normal" text-anchor="middle" ><tspan>14</tspan></text>
<rect x="496.92" y="522.8" width="23.43" height="1.3" fill="#a0a0a0"/>
<text transform="translate(533.27,511.30) scale(0.82,1)" font-size="10.5" fill="#3cb492" font-weight="normal" text-anchor="middle" ><tspan>18</tspan></text>
<text transform="translate(533.27,542.50) scale(0.82,1)" font-size="10.5" fill="#24345a" font-weight="normal" text-anchor="middle" ><tspan>10</tspan></text>
<rect x="521.55" y="522.8" width="23.43" height="1.3" fill="#a0a0a0"/>
<text transform="translate(557.90,511.30) scale(0.82,1)" font-size="10.5" fill="#3cb492" font-weight="normal" text-anchor="middle" ><tspan>9</tspan></text>
<text transform="translate(557.90,542.50) scale(0.82,1)" font-size="10.5" fill="#24345a" font-weight="normal" text-anchor="middle" ><tspan>4</tspan></text>
<rect x="546.18" y="522.8" width="23.43" height="1.3" fill="#a0a0a0"/>
<text transform="translate(582.53,511.30) scale(0.82,1)" font-size="10.5" fill="#3cb492" font-weight="normal" text-anchor="middle" ><tspan>5</tspan></text>
<text transform="translate(582.53,542.50) scale(0.82,1)" font-size="10.5" fill="#24345a" font-weight="normal" text-anchor="middle" ><tspan>1</tspan></text>
<rect x="570.82" y="522.8" width="23.43" height="1.3" fill="#a0a0a0"/>
<text transform="translate(607.17,511.30) scale(0.82,1)" font-size="10.5" fill="#3cb492" font-weight="normal" text-anchor="middle" ><tspan>3</tspan></text>
<text transform="translate(607.17,542.50) scale(0.82,1)" font-size="10.5" fill="#24345a" font-weight="normal" text-anchor="middle" ><tspan>0</tspan></text>
<rect x="595.45" y="522.8" width="23.43" height="1.3" fill="#a0a0a0"/>
<text transform="translate(631.80,511.30) scale(0.82,1)" font-size="10.5" fill="#3cb492" font-weight="normal" text-anchor="middle" ><tspan>2</tspan></text>
<text transform="translate(631.80,542.50) scale(0.82,1)" font-size="10.5" fill="#24345a" font-weight="normal" text-anchor="middle" ><tspan>0</tspan></text>
<rect x="620.08" y="522.8" width="23.43" height="1.3" fill="#a0a0a0"/>
<text transform="translate(656.43,511.30) scale(0.82,1)" font-size="10.5" fill="#3cb492" font-weight="normal" text-anchor="middle" ><tspan>2</tspan></text>
<text transform="translate(656.43,542.50) scale(0.82,1)" font-size="10.5" fill="#24345a" font-weight="normal" text-anchor="middle" ><tspan>0</tspan></text>
<rect x="644.72" y="522.8" width="23.43" height="1.3" fill="#a0a0a0"/>
<text transform="translate(681.07,511.30) scale(0.82,1)" font-size="10.5" fill="#3cb492" font-weight="normal" text-anchor="middle" ><tspan>0</tspan></text>
<text transform="translate(681.07,542.50) scale(0.82,1)" font-size="10.5" fill="#24345a" font-weight="normal" text-anchor="middle" ><tspan>0</tspan></text>
<rect x="669.35" y="522.8" width="23.43" height="1.3" fill="#a0a0a0"/>
<text transform="translate(705.70,511.30) scale(0.82,1)" font-size="10.5" fill="#3cb492" font-weight="normal" text-anchor="middle" ><tspan>0</tspan></text>
<text transform="translate(705.70,542.50) scale(0.82,1)" font-size="10.5" fill="#24345a" font-weight="normal" text-anchor="middle" ><tspan>0</tspan></text>
<rect x="693.98" y="522.8" width="23.43" height="1.3" fill="#a0a0a0"/>
<text transform="translate(747.20,511.30) scale(0.82,1)" font-size="10.5" fill="#3cb492" font-weight="normal" text-anchor="middle" ><tspan>107</tspan></text>
<text transform="translate(747.20,542.50) scale(0.82,1)" font-size="10.5" fill="#24345a" font-weight="normal" text-anchor="middle" ><tspan>95</tspan></text>
<rect x="735.63" y="522.8" width="23.14" height="1.3" fill="#a0a0a0"/>
<text transform="translate(771.54,511.30) scale(0.82,1)" font-size="10.5" fill="#3cb492" font-weight="normal" text-anchor="middle" ><tspan>82</tspan></text>
<text transform="translate(771.54,542.50) scale(0.82,1)" font-size="10.5" fill="#24345a" font-weight="normal" text-anchor="middle" ><tspan>54</tspan></text>
<rect x="759.97" y="522.8" width="23.14" height="1.3" fill="#a0a0a0"/>
<text transform="translate(795.88,511.30) scale(0.82,1)" font-size="10.5" fill="#3cb492" font-weight="normal" text-anchor="middle" ><tspan>69</tspan></text>
<text transform="translate(795.88,542.50) scale(0.82,1)" font-size="10.5" fill="#24345a" font-weight="normal" text-anchor="middle" ><tspan>36</tspan></text>
<rect x="784.31" y="522.8" width="23.14" height="1.3" fill="#a0a0a0"/>
<text transform="translate(820.22,511.30) scale(0.82,1)" font-size="10.5" fill="#3cb492" font-weight="normal" text-anchor="middle" ><tspan>52</tspan></text>
<text transform="translate(820.22,542.50) scale(0.82,1)" font-size="10.5" fill="#24345a" font-weight="normal" text-anchor="middle" ><tspan>24</tspan></text>
<rect x="808.65" y="522.8" width="23.14" height="1.3" fill="#a0a0a0"/>
<text transform="translate(844.57,511.30) scale(0.82,1)" font-size="10.5" fill="#3cb492" font-weight="normal" text-anchor="middle" ><tspan>32</tspan></text>
<text transform="translate(844.57,542.50) scale(0.82,1)" font-size="10.5" fill="#24345a" font-weight="normal" text-anchor="middle" ><tspan>17</tspan></text>
<rect x="833.00" y="522.8" width="23.14" height="1.3" fill="#a0a0a0"/>
<text transform="translate(868.91,511.30) scale(0.82,1)" font-size="10.5" fill="#3cb492" font-weight="normal" text-anchor="middle" ><tspan>23</tspan></text>
<text transform="translate(868.91,542.50) scale(0.82,1)" font-size="10.5" fill="#24345a" font-weight="normal" text-anchor="middle" ><tspan>12</tspan></text>
<rect x="857.34" y="522.8" width="23.14" height="1.3" fill="#a0a0a0"/>
<text transform="translate(893.25,511.30) scale(0.82,1)" font-size="10.5" fill="#3cb492" font-weight="normal" text-anchor="middle" ><tspan>12</tspan></text>
<text transform="translate(893.25,542.50) scale(0.82,1)" font-size="10.5" fill="#24345a" font-weight="normal" text-anchor="middle" ><tspan>5</tspan></text>
<rect x="881.68" y="522.8" width="23.14" height="1.3" fill="#a0a0a0"/>
<text transform="translate(917.59,511.30) scale(0.82,1)" font-size="10.5" fill="#3cb492" font-weight="normal" text-anchor="middle" ><tspan>8</tspan></text>
<text transform="translate(917.59,542.50) scale(0.82,1)" font-size="10.5" fill="#24345a" font-weight="normal" text-anchor="middle" ><tspan>3</tspan></text>
<rect x="906.02" y="522.8" width="23.14" height="1.3" fill="#a0a0a0"/>
<text transform="translate(941.93,511.30) scale(0.82,1)" font-size="10.5" fill="#3cb492" font-weight="normal" text-anchor="middle" ><tspan>6</tspan></text>
<text transform="translate(941.93,542.50) scale(0.82,1)" font-size="10.5" fill="#24345a" font-weight="normal" text-anchor="middle" ><tspan>0</tspan></text>
<rect x="930.36" y="522.8" width="23.14" height="1.3" fill="#a0a0a0"/>
<text transform="translate(966.27,511.30) scale(0.82,1)" font-size="10.5" fill="#3cb492" font-weight="normal" text-anchor="middle" ><tspan>4</tspan></text>
<text transform="translate(966.27,542.50) scale(0.82,1)" font-size="10.5" fill="#24345a" font-weight="normal" text-anchor="middle" ><tspan>0</tspan></text>
<rect x="954.70" y="522.8" width="23.14" height="1.3" fill="#a0a0a0"/>
<text transform="translate(990.62,511.30) scale(0.82,1)" font-size="10.5" fill="#3cb492" font-weight="normal" text-anchor="middle" ><tspan>4</tspan></text>
<text transform="translate(990.62,542.50) scale(0.82,1)" font-size="10.5" fill="#24345a" font-weight="normal" text-anchor="middle" ><tspan>0</tspan></text>
<rect x="979.05" y="522.8" width="23.14" height="1.3" fill="#a0a0a0"/>
<text transform="translate(1014.96,511.30) scale(0.82,1)" font-size="10.5" fill="#3cb492" font-weight="normal" text-anchor="middle" ><tspan>1</tspan></text>
<text transform="translate(1014.96,542.50) scale(0.82,1)" font-size="10.5" fill="#24345a" font-weight="normal" text-anchor="middle" ><tspan>0</tspan></text>
<rect x="1003.39" y="522.8" width="23.14" height="1.3" fill="#a0a0a0"/>
<text transform="translate(1039.30,511.30) scale(0.82,1)" font-size="10.5" fill="#3cb492" font-weight="normal" text-anchor="middle" ><tspan>0</tspan></text>
<text transform="translate(1039.30,542.50) scale(0.82,1)" font-size="10.5" fill="#24345a" font-weight="normal" text-anchor="middle" ><tspan>0</tspan></text>
<rect x="1027.73" y="522.8" width="23.14" height="1.3" fill="#a0a0a0"/>
<text x="125.00" y="491.50" font-size="13" fill="#333" font-weight="normal" textLength="173.00" lengthAdjust="spacingAndGlyphs" ><tspan>Time from randomisation (months)</tspan></text>
<text x="476.00" y="491.50" font-size="13" fill="#333" font-weight="normal" textLength="173.00" lengthAdjust="spacingAndGlyphs" ><tspan>Time from randomisation (months)</tspan></text>
<text x="814.40" y="491.50" font-size="13" fill="#333" font-weight="normal" textLength="173.00" lengthAdjust="spacingAndGlyphs" ><tspan>Time from randomisation (months)</tspan></text>
<text x="27.30" y="567.70" font-size="11.5" fill="#2d3550" font-weight="normal" textLength="342.00" lengthAdjust="spacingAndGlyphs" ><tspan font-weight="bold" fill="#a5137a">Pink</tspan><tspan> title indicates secondary endpoint; </tspan><tspan font-weight="bold" fill="#33529c">blue</tspan><tspan> title indicates exploratory endpoints.</tspan></text>
<text x="27.30" y="590.00" font-size="11.5" fill="#0b2d5b" font-weight="bold" textLength="64.40" lengthAdjust="spacingAndGlyphs" ><tspan>Erica L. Mayer</tspan></text>
<text x="124.00" y="590.00" font-size="11.5" fill="#3b4a6b" font-weight="normal" textLength="443.10" lengthAdjust="spacingAndGlyphs" ><tspan>Content of this presentation is copyright and responsibility of the author. Permission is required for re-use.</tspan></text>
<path d="M905.8,605 L905.8,593 Q905.8,556.4 942.8,556.4 L1080,556.4" fill="none" stroke="#f4f4f4" stroke-width="2"/>
<path d="M946,575 L972.8,575 L972.8,596.9 L946,596.9 Q942,596.9 942,592.9 L942,579 Q942,575 946,575 Z" fill="#1fab86"/>
<text x="946.90" y="585.20" font-size="7.2" fill="#eaf7f2" font-weight="normal" textLength="21.20" lengthAdjust="spacingAndGlyphs" ><tspan>BERLIN</tspan></text>
<text x="946.90" y="592.60" font-size="7.2" fill="#eaf7f2" font-weight="normal" textLength="13.70" lengthAdjust="spacingAndGlyphs" ><tspan>2025</tspan></text>
<path d="M974,575 L987.5,575 L987.5,579.4 L978.1,579.4 L978.1,583.75 L987.5,583.75 L987.5,588.1 L978.1,588.1 L978.1,592.5 L987.5,592.5 L987.5,596.9 L974,596.9 Z" fill="#13582d"/>
<path d="M996.8,577.2 L990,577.2 Q987.2,577.2 987.2,580 L987.2,583.2 Q987.2,586 990,586 L992.6,586 Q995.4,586 995.4,588.8 L995.4,592 Q995.4,594.8 992.6,594.8 L985.5,594.8" fill="none" stroke="#8e1b5e" stroke-width="4.4"/>
<path d="M996.5,597 L996.5,575 L1001.8,575 L1005.5,587 L1009.2,575 L1014.6,575 L1014.6,597 L1010.4,597 L1010.4,584.5 L1007.1,597 L1003.9,597 L1000.7,584.5 L1000.7,597 Z" fill="#7c9a2e"/>
<path d="M1013.8,580 Q1013.8,575 1018.8,575 L1021.9,575 Q1026.9,575 1026.9,580 L1026.9,591.9 Q1026.9,596.9 1021.9,596.9 L1018.8,596.9 Q1013.8,596.9 1013.8,591.9 Z M1018,580.9 Q1018,579.4 1019.5,579.4 L1021.2,579.4 Q1022.7,579.4 1022.7,580.9 L1022.7,591 Q1022.7,592.5 1021.2,592.5 L1019.5,592.5 Q1018,592.5 1018,591 Z" fill="#0f3563" fill-rule="evenodd"/>
<text x="1028.00" y="579.30" font-size="12.8" fill="#1fab86" font-weight="bold" textLength="40.80" lengthAdjust="spacingAndGlyphs" ><tspan>congress</tspan></text>
</svg></body></html>
